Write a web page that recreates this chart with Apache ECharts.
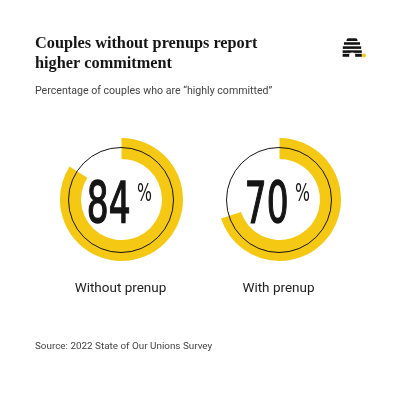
<!DOCTYPE html>
<html>
<head>
<meta charset="utf-8">
<script src="https://cdn.jsdelivr.net/npm/echarts@6/dist/echarts.min.js"></script>
<style>
  html, body { margin: 0; padding: 0; background: #fff; }
  #charts { width: 400px; height: 400px; }
</style>
</head>
<body>
<div id="charts"></div>
<script>
// data
var categories = ['Without prenup', 'With prenup'];
var committed = [84, 70];          // % highly committed
var valueMax = 100;

var titleText = 'Couples without prenups report\nhigher commitment';
var subText = 'Percentage of couples who are \u201chighly committed\u201d';
var sourceText = 'Source: 2022 State of Our Unions Survey';

// layout
var centers = [[121.5, 199.5], [279.5, 199.5]];
var yellow = '#F5C814';
var ink = '#151515';

var myChart = echarts.init(document.getElementById('charts'));

var polar = [], angleAxis = [], radiusAxis = [], series = [], graphic = [];

categories.forEach(function (name, i) {
    var c = centers[i];
    // yellow ring
    polar.push({ center: c, radius: [40.5, 61.5] });
    angleAxis.push({
        polarIndex: 2 * i, type: 'value', min: 0, max: valueMax,
        startAngle: 90, clockwise: true, show: false
    });
    radiusAxis.push({ polarIndex: 2 * i, type: 'category', data: [name], show: false });
    series.push({
        type: 'bar', coordinateSystem: 'polar', polarIndex: 2 * i,
        data: [committed[i]], barCategoryGap: '0%',
        itemStyle: { color: yellow }, silent: true
    });

    // thin black circle
    polar.push({ center: [c[0] - 0.5, c[1] + 0.5], radius: [0, 52.5] });
    angleAxis.push({
        polarIndex: 2 * i + 1, type: 'value', min: 0, max: valueMax, startAngle: 90,
        z: 10,
        axisLine: { show: true, lineStyle: { color: ink, width: 1 } },
        axisTick: { show: false }, axisLabel: { show: false }, splitLine: { show: false }
    });
    radiusAxis.push({ polarIndex: 2 * i + 1, type: 'value', show: false });

    // big number
    graphic.push({
        type: 'text', x: c[0] + 9, y: c[1] + 8.5, scaleX: 0.67, z: 20,
        style: {
            text: String(committed[i]), fill: ink, stroke: ink, lineWidth: 1.4,
            font: '57px "Liberation Sans Narrow", "DejaVu Sans Condensed", sans-serif',
            textAlign: 'right', textVerticalAlign: 'middle'
        }
    });
    graphic.push({
        type: 'text', x: c[0] + 15.5, y: c[1] - 5, scaleX: 0.7, z: 20,
        style: {
            text: '%', fill: ink,
            font: '25px "Liberation Sans Narrow", "DejaVu Sans Condensed", sans-serif',
            textAlign: 'left', textVerticalAlign: 'middle'
        }
    });
    // category label
    graphic.push({
        type: 'text', x: c[0] - 1, y: 289, z: 20,
        style: {
            text: name, fill: '#222',
            font: '13.5px Roboto, "Liberation Sans", sans-serif',
            textAlign: 'center', textVerticalAlign: 'middle'
        }
    });
});

// beehive logo
var hive = [
    [346.5, 38.3, 11, 2.6],
    [344, 42.2, 16, 2.6],
    [342.8, 46.3, 18.4, 2.6],
    [342.6, 50.3, 19.2, 2.6],
    [342.6, 53.8, 19.2, 3]
];
hive.forEach(function (r, k) {
    graphic.push({
        type: 'rect', shape: { x: r[0], y: r[1], width: r[2], height: r[3], r: k === 0 ? [2, 2, 0, 0] : 0 },
        style: { fill: ink }, silent: true
    });
});
graphic.push({
    type: 'rect', shape: { x: 349.2, y: 52.6, width: 6, height: 4.4, r: [3, 3, 0, 0] },
    style: { fill: '#fff' }, silent: true, z: 5
});
graphic.push({
    type: 'circle', shape: { cx: 364, cy: 55.4, r: 2 },
    style: { fill: yellow }, silent: true
});

var option = {
    animation: false,
    backgroundColor: '#fff',
    title: [
        {
            text: titleText, left: 35, top: 34, padding: 0,
            textStyle: {
                fontFamily: '"Liberation Serif", "DejaVu Serif", serif',
                fontWeight: 'bold', fontSize: 16.3, lineHeight: 20, color: ink
            }
        },
        {
            text: subText, left: 35, top: 86, padding: 0,
            textStyle: {
                fontFamily: 'Roboto, "Liberation Sans", sans-serif',
                fontWeight: 'normal', fontSize: 10.6, color: '#444'
            }
        },
        {
            text: sourceText, left: 35, top: 341.5, padding: 0,
            textStyle: {
                fontFamily: 'Roboto, "Liberation Sans", sans-serif',
                fontWeight: 'normal', fontSize: 9.9, color: '#444'
            }
        }
    ],
    polar: polar,
    angleAxis: angleAxis,
    radiusAxis: radiusAxis,
    series: series,
    graphic: graphic
};

myChart.setOption(option);
</script>
</body>
</html>
